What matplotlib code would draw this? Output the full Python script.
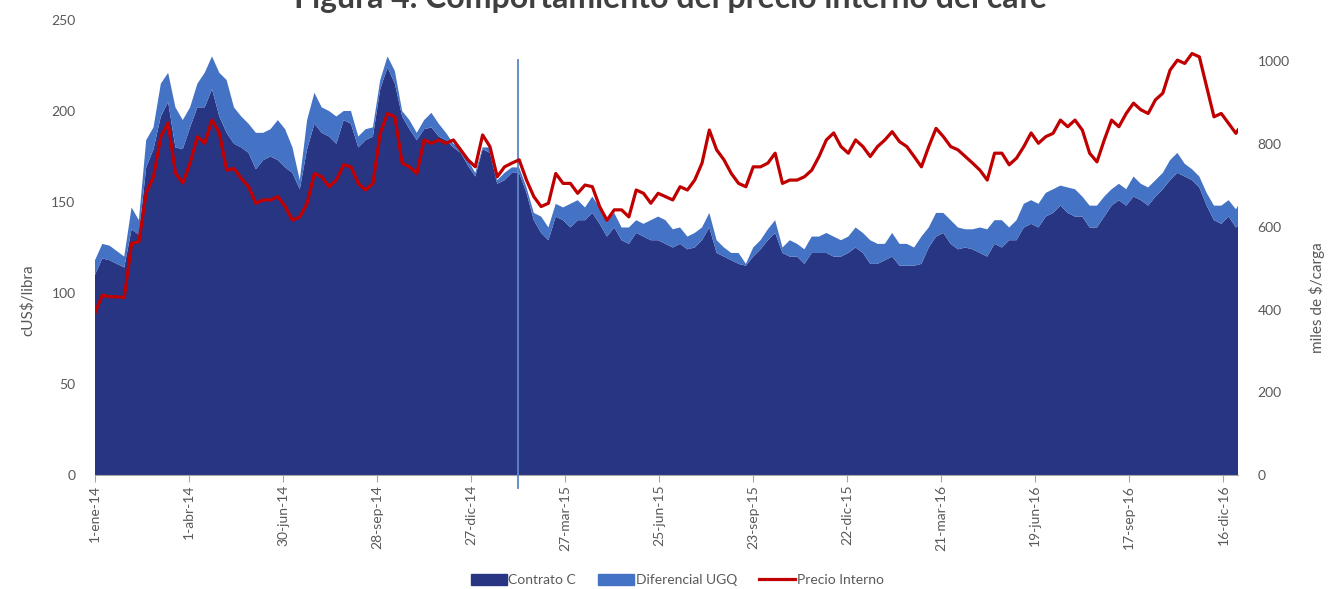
import matplotlib
matplotlib.use("Agg")
import matplotlib.pyplot as plt
from matplotlib.patches import Patch
from matplotlib.lines import Line2D
import pandas as pd

plt.rcParams['font.family'] = ['Lato', 'DejaVu Sans']

# weekly readings, 1-ene-14 .. 28-dic-16, plus the last day shown
fechas = list(pd.date_range('2014-01-01', periods=157, freq='7D')) + [pd.Timestamp('2016-12-30')]

contrato_c = [
    110, 119, 118, 116, 114, 135, 132, 169, 179, 197,
    205, 180, 179, 191, 202, 202, 212, 197, 188, 182,
    180, 177, 168, 173, 175, 173, 169, 166, 157, 179,
    193, 188, 186, 182, 195, 193, 180, 184, 186, 212,
    224, 215, 197, 190, 184, 190, 191, 186, 184, 180,
    177, 170, 164, 179, 177, 160, 162, 166, 166, 155,
    140, 133, 129, 142, 140, 136, 140, 140, 144, 138,
    131, 136, 129, 127, 133, 131, 129, 129, 127, 125,
    127, 124, 125, 129, 136, 122, 120, 118, 116, 115,
    120, 124, 129, 133, 122, 120, 120, 116, 122, 122,
    122, 120, 120, 122, 125, 122, 116, 116, 118, 120,
    115, 115, 115, 116, 125, 131, 133, 127, 124, 125,
    124, 122, 120, 127, 125, 129, 129, 136, 138, 136,
    142, 144, 148, 144, 142, 142, 136, 136, 142, 148,
    151, 148, 153, 151, 148, 153, 157, 162, 166, 164,
    162, 158, 148, 140, 138, 142, 136, 137,
]

diferencial_ugq = [
    8, 8, 8, 7, 6, 12, 8, 15, 12, 18,
    16, 22, 16, 11, 13, 19, 18, 24, 29, 20,
    17, 16, 20, 15, 15, 22, 21, 14, 5, 16,
    17, 14, 14, 15, 5, 7, 6, 6, 5, 5,
    6, 7, 3, 5, 4, 5, 8, 7, 4, 2,
    3, 3, 2, 1, 3, 2, 4, 3, 3, 3,
    4, 9, 7, 7, 7, 13, 11, 7, 9, 9,
    9, 8, 7, 9, 7, 7, 11, 13, 13, 10,
    9, 7, 8, 7, 8, 7, 5, 4, 6, 1,
    5, 5, 6, 7, 3, 9, 7, 8, 9, 9,
    11, 11, 9, 9, 11, 11, 13, 11, 9, 13,
    12, 12, 10, 15, 11, 13, 11, 13, 12, 10,
    11, 14, 15, 13, 15, 7, 11, 13, 13, 13,
    13, 13, 11, 14, 15, 11, 12, 12, 11, 9,
    9, 9, 11, 9, 10, 9, 9, 11, 11, 7,
    6, 6, 7, 8, 10, 9, 10, 11,
]

precio_interno = [
    392, 435, 431, 431, 429, 560, 564, 682, 721, 818,
    851, 730, 706, 754, 818, 802, 858, 827, 737, 741,
    717, 697, 657, 665, 665, 673, 649, 616, 624, 657,
    729, 721, 697, 713, 750, 745, 705, 689, 705, 827,
    874, 866, 754, 745, 729, 810, 802, 810, 802, 810,
    786, 762, 745, 822, 794, 721, 745, 754, 762, 713,
    673, 649, 657, 729, 705, 705, 681, 701, 697, 649,
    616, 641, 641, 624, 689, 681, 657, 681, 673, 665,
    697, 689, 713, 754, 834, 786, 762, 729, 705, 697,
    745, 745, 754, 778, 705, 713, 713, 721, 737, 770,
    810, 827, 794, 778, 810, 794, 770, 794, 810, 830,
    806, 794, 770, 745, 794, 838, 818, 794, 786, 770,
    754, 737, 713, 778, 778, 750, 766, 794, 827, 802,
    818, 826, 858, 842, 858, 834, 778, 757, 810, 858,
    842, 874, 899, 883, 874, 907, 923, 979, 1003, 995,
    1019, 1011, 939, 866, 874, 850, 826, 834,
]

tick_fechas = pd.date_range('2014-01-01', periods=13, freq='90D')
tick_labels = ['1-ene-14', '1-abr-14', '30-jun-14', '28-sep-14', '27-dic-14',
               '27-mar-15', '25-jun-15', '23-sep-15', '22-dic-15', '21-mar-16',
               '19-jun-16', '17-sep-16', '16-dic-16']
fecha_linea = pd.Timestamp('2015-02-10')

c_contrato = '#283583'
c_dif = '#4472C4'
c_precio = '#C00000'
gris = '#595959'

fig = plt.figure(figsize=(13.33, 5.89), dpi=100)
ax = fig.add_axes([95 / 1333, 1 - 475 / 589, 1143 / 1333, 455 / 589])

ax.stackplot(fechas, contrato_c, diferencial_ugq, colors=[c_contrato, c_dif], linewidth=0)
ax.set_ylim(0, 250)
ax.set_xlim(fechas[0], fechas[-1])
ax.set_yticks(range(0, 251, 50))
ax.set_xticks(tick_fechas)
ax.set_xticklabels(tick_labels, rotation=90)
ax.tick_params(axis='x', colors='#A6A6A6', labelcolor=gris, labelsize=10, length=5, pad=2)
ax.tick_params(axis='y', length=0, labelcolor=gris, labelsize=10, pad=14)
for s in ['top', 'left', 'right']:
    ax.spines[s].set_visible(False)
ax.spines['bottom'].set_color('#A6A6A6')
ax.set_ylabel('cUS$/libra', color=gris, fontsize=11)
ax.yaxis.set_label_coords(-0.053, 0.385)

ax.axvline(fecha_linea, ymin=-0.029, ymax=0.912, color='#5B86C5', lw=1.3, clip_on=False, zorder=5)

ax2 = ax.twinx()
ax2.plot(fechas, precio_interno, color=c_precio, lw=2.3)
ax2.set_ylim(0, 1100)
ax2.set_yticks(range(0, 1001, 200))
ax2.tick_params(axis='y', length=0, labelcolor=gris, labelsize=10, pad=14)
for s in ax2.spines.values():
    s.set_visible(False)
ax2.set_ylabel('miles de $/carga', color=gris, fontsize=11)
ax2.yaxis.set_label_coords(1.062, 0.39)

# the title sits partly above the top edge, as in the source image
fig.text(0.503, 1 - 8 / 589, 'Figura 4. Comportamiento del precio interno del café',
         ha='center', va='baseline', fontsize=23, fontweight='bold', color='#404040')

handles = [Patch(color=c_contrato), Patch(color=c_dif), Line2D([], [], color=c_precio, lw=2.3)]
fig.legend(handles, ['Contrato C', 'Diferencial UGQ', 'Precio Interno'],
           loc='center', bbox_to_anchor=(0.508, 1 - 580 / 589), ncol=3, frameon=False,
           fontsize=10, handlelength=2.6, handleheight=0.8, handletextpad=0.1,
           columnspacing=1.6, labelcolor=gris)

fig.savefig('out.png', dpi=100)
